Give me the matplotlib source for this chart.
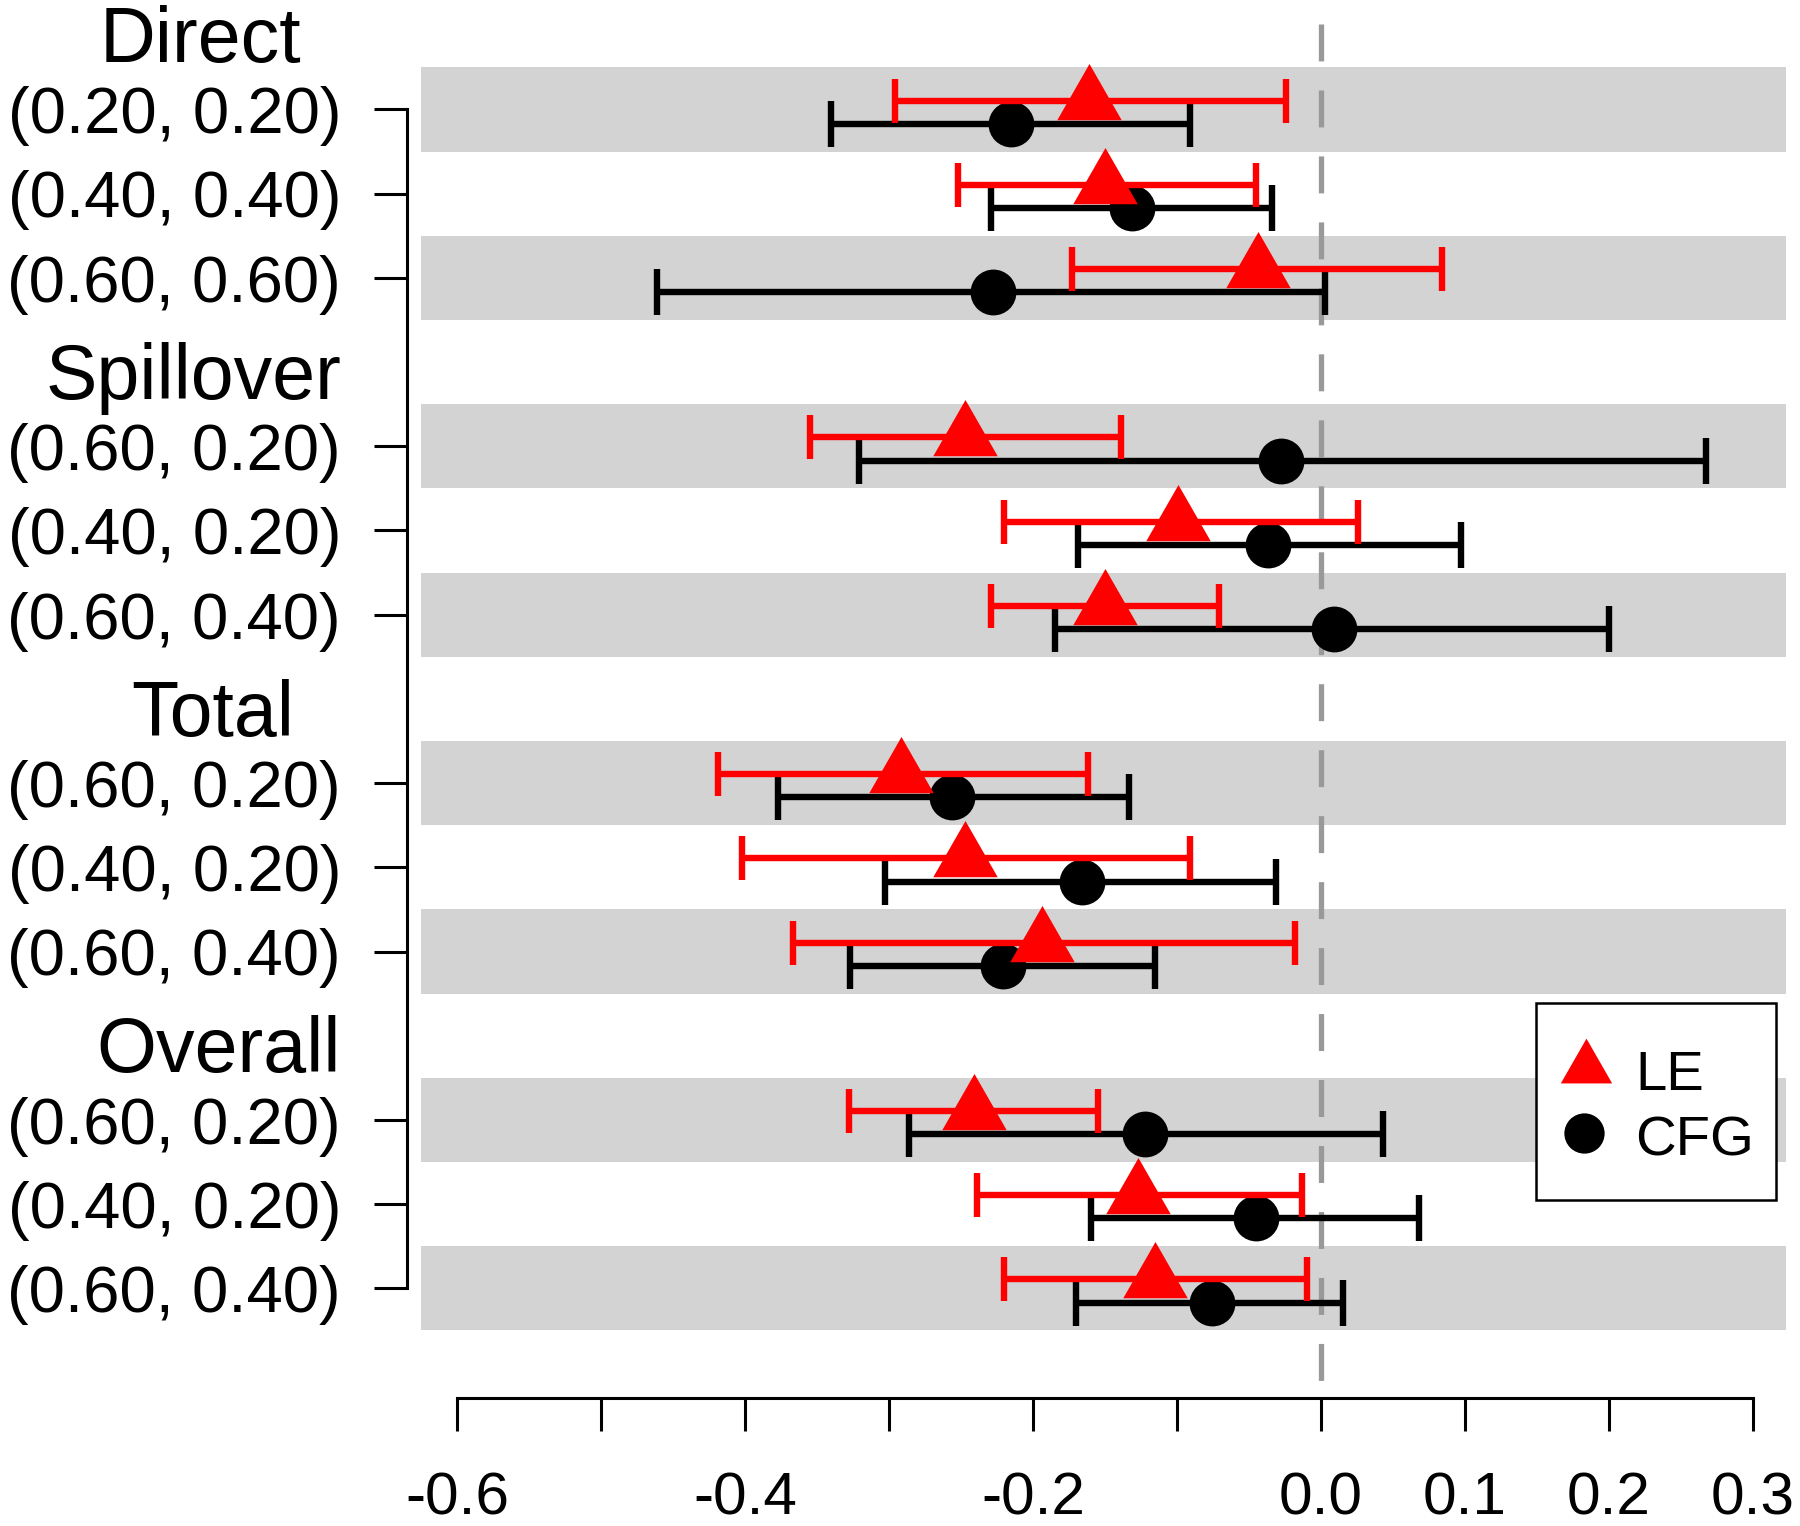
import numpy as np
import matplotlib
matplotlib.use("Agg")
import matplotlib.pyplot as plt
import matplotlib.transforms as mtransforms
from matplotlib.path import Path
from matplotlib.lines import Line2D
from matplotlib.patches import Rectangle

plt.rcParams['font.family'] = ['Liberation Sans', 'DejaVu Sans']

# groups and rows
groups = ['Direct', 'Spillover', 'Total', 'Overall']
row_labels = ['(0.20, 0.20)', '(0.40, 0.40)', '(0.60, 0.60)',
              '(0.60, 0.20)', '(0.40, 0.20)', '(0.60, 0.40)',
              '(0.60, 0.20)', '(0.40, 0.20)', '(0.60, 0.40)',
              '(0.60, 0.20)', '(0.40, 0.20)', '(0.60, 0.40)']

# LE estimates and intervals
le_est = [-0.161, -0.150, -0.044, -0.247, -0.099, -0.150,
          -0.292, -0.247, -0.194, -0.241, -0.127, -0.115]
le_lo = [-0.296, -0.252, -0.173, -0.355, -0.220, -0.229,
         -0.419, -0.402, -0.367, -0.328, -0.239, -0.220]
le_hi = [-0.024, -0.045, 0.084, -0.139, 0.026, -0.071,
         -0.162, -0.091, -0.018, -0.155, -0.013, -0.010]

# CFG estimates and intervals
cfg_est = [-0.215, -0.131, -0.228, -0.028, -0.037, 0.009,
           -0.256, -0.166, -0.221, -0.122, -0.045, -0.076]
cfg_lo = [-0.340, -0.229, -0.461, -0.321, -0.169, -0.185,
          -0.377, -0.303, -0.327, -0.286, -0.160, -0.170]
cfg_hi = [-0.091, -0.034, 0.003, 0.267, 0.097, 0.200,
          -0.133, -0.031, -0.115, 0.043, 0.068, 0.015]

xticks = [-0.6, -0.5, -0.4, -0.3, -0.2, -0.1, 0.0, 0.1, 0.2, 0.3]
xtick_labels = ['-0.6', '', '-0.4', '', '-0.2', '', '0.0', '0.1', '0.2', '0.3']

W, H = 1800, 1526
fig = plt.figure(figsize=(W / 100, H / 100), dpi=100)
ax = fig.add_axes([421 / W, (H - 1370) / H, 1365 / W, 1370 / H])

# row positions: header, then 3 rows, per group
header_pos = []
row_pos = []
for g in range(len(groups)):
    header_pos.append(g * 4)
    for k in range(3):
        row_pos.append(g * 4 + k + 1)
row_pos = np.array(row_pos, dtype=float)

ax.set_xlim(-0.625, 0.3229)
ax.set_ylim(15.97, -0.30)

# shaded bands on first and third row of each group
for i, p in enumerate(row_pos):
    if i % 3 != 1:
        ax.axhspan(p - 0.5, p + 0.5, color='#d3d3d3', lw=0, zorder=0)

# zero line
ax.plot([0, 0], [-0.01, 16.31], color='#999999', lw=3.8,
        linestyle=(0, (7, 5.5)), clip_on=False, zorder=1)

# triangle with centroid at origin (like R pch 17)
tri = Path([(0, 1), (-0.86, -0.5), (0.86, -0.5), (0, 1)],
           [Path.MOVETO, Path.LINETO, Path.LINETO, Path.CLOSEPOLY])

le_y = row_pos - 0.105
cfg_y = row_pos + 0.17
le_est = np.array(le_est); cfg_est = np.array(cfg_est)

ax.errorbar(cfg_est, cfg_y, xerr=[cfg_est - np.array(cfg_lo), np.array(cfg_hi) - cfg_est],
            fmt='none', ecolor='black', elinewidth=4.6, capsize=16.5, capthick=4.6, zorder=2)
ax.plot(cfg_est, cfg_y, 'o', color='black', ms=33, mew=0, zorder=3)
ax.errorbar(le_est, le_y, xerr=[le_est - np.array(le_lo), np.array(le_hi) - le_est],
            fmt='none', ecolor='red', elinewidth=4.6, capsize=15.5, capthick=4.6, zorder=4)
ax.plot(le_est, le_y, marker=tri, ls='none', color='red', ms=54, mew=0, zorder=5)

# axes in R style
for s in ['top', 'right']:
    ax.spines[s].set_visible(False)
ax.spines['bottom'].set_position(('outward', 20.2))
ax.spines['bottom'].set_bounds(-0.6, 0.3)
ax.spines['left'].set_position(('outward', 10.1))
ax.spines['left'].set_bounds(row_pos[0], row_pos[-1])
ax.spines['bottom'].set_linewidth(2.2)
ax.spines['left'].set_linewidth(2.2)

ax.set_xticks(xticks)
ax.set_xticklabels(xtick_labels, fontsize=43.5)
ax.tick_params(axis='x', length=24, width=2.2, pad=29)
ax.set_yticks(row_pos)
ax.set_yticklabels([])
ax.tick_params(axis='y', length=24, width=2.2)

# labels on the left
trans = mtransforms.blended_transform_factory(fig.transFigure, ax.transData)
header_x = [200, 193, 213, 219]
for g, name in enumerate(groups):
    ax.text(header_x[g] / W, header_pos[g] + 0.436, name, transform=trans,
            ha='center', va='baseline', fontsize=55.5, clip_on=False)
for lab, p in zip(row_labels, row_pos):
    ax.text(341 / W, p + 0.283, lab, transform=trans,
            ha='right', va='baseline', fontsize=47, clip_on=False)

# legend box
def fx(px):
    return px / W

def fy(py):
    return 1 - py / H

fig.add_artist(Rectangle((fx(1536), fy(1200)), 240 / W, 197 / H, transform=fig.transFigure,
                         facecolor='white', edgecolor='black', lw=1.8, zorder=10))
fig.add_artist(Line2D([fx(1586)], [fy(1068)], marker=tri, ls='none', color='red',
                      ms=43, mew=0, transform=fig.transFigure, zorder=11))
fig.add_artist(Line2D([fx(1584)], [fy(1133)], marker='o', ls='none', color='black',
                      ms=29, mew=0, transform=fig.transFigure, zorder=11))
fig.text(fx(1635), fy(1090), 'LE', fontsize=40.5, va='baseline', ha='left', zorder=12)
fig.text(fx(1635), fy(1155), 'CFG', fontsize=40.5, va='baseline', ha='left', zorder=12)

fig.savefig('out.png', dpi=100)
